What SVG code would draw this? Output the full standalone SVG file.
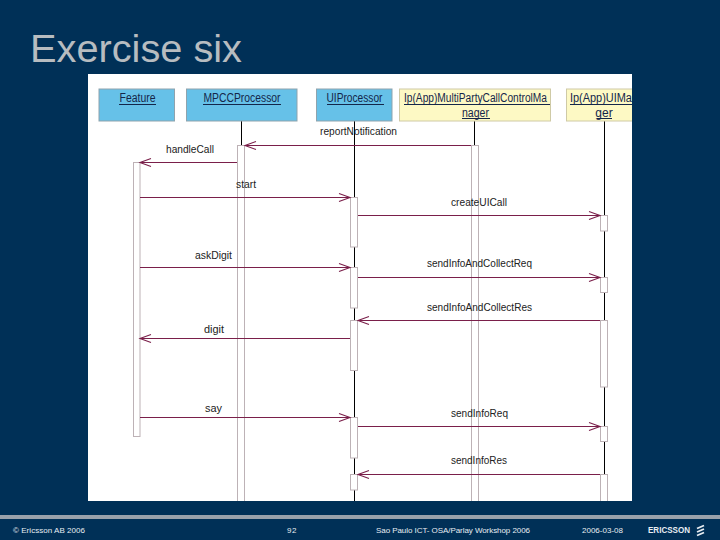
<svg xmlns="http://www.w3.org/2000/svg" width="720" height="540" viewBox="0 0 720 540">
<style>
text{font-family:"Liberation Sans",Arial,sans-serif}
.blue{fill:#66c1e8;stroke:#8fa3ad;stroke-width:1}
.yel{fill:#fdf9c4;stroke:#cfcaa6;stroke-width:1}
.name{font-size:12px;fill:#14264a;text-anchor:middle}
.ul{stroke:#14264a;stroke-width:1}
.life{stroke:#000;stroke-width:1;fill:none}
.act{fill:#fff;stroke:#bdb2b6;stroke-width:1}
.msg{stroke:#7a1f4a;stroke-width:1;fill:none}
.lbl{font-size:11.5px;fill:#222}
.foot{font-size:8px;fill:#e8edf2}
</style>
<defs>
<marker id="arr" markerUnits="userSpaceOnUse" markerWidth="14" markerHeight="12" refX="12" refY="6" orient="auto">
<path d="M1 2 L12 6 L1 10" fill="none" stroke="#7a1f4a" stroke-width="1.100"/>
</marker>
<clipPath id="panel"><rect x="88" y="74" width="544" height="427"/></clipPath>
</defs>
<rect width="720" height="540" fill="#003057"/>
<text x="30" y="62" font-size="38" fill="#b7bcc0" textLength="212" lengthAdjust="spacingAndGlyphs">Exercise six</text>
<rect x="88" y="74" width="544" height="427" fill="#fff"/>
<rect x="0" y="515" width="720" height="4" fill="#98a1ab"/>
<g clip-path="url(#panel)">
<g id="lifelines">
<line class="life" x1="241.500" y1="121" x2="241.500" y2="501"/>
<line class="life" x1="354.500" y1="121" x2="354.500" y2="501"/>
<line class="life" x1="474.500" y1="121" x2="474.500" y2="501"/>
<line class="life" x1="604.500" y1="121" x2="604.500" y2="501"/>
</g>
<g id="activations">
<rect class="act" x="133.500" y="162.500" width="6.500" height="274"/>
<rect class="act" x="237.500" y="145.500" width="7" height="360"/>
<rect class="act" x="471.500" y="145.500" width="7" height="360"/>
<rect class="act" x="350.500" y="197.500" width="7" height="49.500"/>
<rect class="act" x="350.500" y="267.500" width="7" height="40.500"/>
<rect class="act" x="350.500" y="320.500" width="7" height="50"/>
<rect class="act" x="350.500" y="417.500" width="7" height="40.500"/>
<rect class="act" x="350.500" y="474.500" width="7" height="15.500"/>
<rect class="act" x="600.500" y="215.500" width="7" height="15.500"/>
<rect class="act" x="600.500" y="277.500" width="7" height="15"/>
<rect class="act" x="600.500" y="320.500" width="7" height="66.500"/>
<rect class="act" x="600.500" y="426.500" width="7" height="15"/>
<rect class="act" x="600.500" y="474.500" width="7" height="35"/>
</g>
<g id="feature">
<rect class="blue" x="99" y="89" width="75.500" height="32"/>
<text class="name" x="137.500" y="102" textLength="36" lengthAdjust="spacingAndGlyphs">Feature</text>
<line class="ul" x1="119" y1="104.500" x2="156" y2="104.500"/>
</g>
<g id="mpccprocessor">
<rect class="blue" x="186.500" y="89" width="110.500" height="32"/>
<text class="name" x="242" y="102" textLength="77" lengthAdjust="spacingAndGlyphs">MPCCProcessor</text>
<line class="ul" x1="203" y1="104.500" x2="281" y2="104.500"/>
</g>
<g id="uiprocessor">
<rect class="blue" x="316.500" y="89" width="75.500" height="32"/>
<text class="name" x="354.500" y="102" textLength="56" lengthAdjust="spacingAndGlyphs">UIProcessor</text>
<line class="ul" x1="327" y1="104.500" x2="384" y2="104.500"/>
</g>
<g id="multiparty">
<rect class="yel" x="399.500" y="89" width="151" height="32"/>
<text class="name" x="475.500" y="102" textLength="143" lengthAdjust="spacingAndGlyphs">Ip(App)MultiPartyCallControlMa</text>
<line class="ul" x1="404" y1="104.500" x2="550" y2="104.500"/>
<text class="name" x="475.500" y="117" textLength="27" lengthAdjust="spacingAndGlyphs">nager</text>
<line class="ul" x1="462" y1="118.500" x2="490" y2="118.500"/>
</g>
<g id="uimanager">
<rect class="yel" x="566.500" y="89" width="76" height="32"/>
<text class="name" x="570" y="102" style="text-anchor:start" textLength="68" lengthAdjust="spacingAndGlyphs">Ip(App)UIMan</text>
<line class="ul" x1="570" y1="104.500" x2="640" y2="104.500"/>
<text class="name" x="604" y="117">ger</text>
<line class="ul" x1="597" y1="118.500" x2="612" y2="118.500"/>
</g>
<g id="connectors">
<line class="msg" x1="471" y1="145.500" x2="245" y2="145.500" marker-end="url(#arr)"/>
<line class="msg" x1="237" y1="162.500" x2="140" y2="162.500" marker-end="url(#arr)"/>
<line class="msg" x1="140" y1="197.500" x2="350" y2="197.500" marker-end="url(#arr)"/>
<line class="msg" x1="358" y1="215.500" x2="600" y2="215.500" marker-end="url(#arr)"/>
<line class="msg" x1="140" y1="267.500" x2="350" y2="267.500" marker-end="url(#arr)"/>
<line class="msg" x1="358" y1="277.500" x2="600" y2="277.500" marker-end="url(#arr)"/>
<line class="msg" x1="600" y1="320.500" x2="358" y2="320.500" marker-end="url(#arr)"/>
<line class="msg" x1="350" y1="338.500" x2="140" y2="338.500" marker-end="url(#arr)"/>
<line class="msg" x1="140" y1="417.500" x2="350" y2="417.500" marker-end="url(#arr)"/>
<line class="msg" x1="358" y1="426.500" x2="600" y2="426.500" marker-end="url(#arr)"/>
<line class="msg" x1="600" y1="474.500" x2="358" y2="474.500" marker-end="url(#arr)"/>
</g>
<g id="labels">
<text class="lbl" x="320" y="135" textLength="77" lengthAdjust="spacingAndGlyphs">reportNotification</text>
<text class="lbl" x="166" y="153" textLength="48" lengthAdjust="spacingAndGlyphs">handleCall</text>
<text class="lbl" x="236" y="188" textLength="20" lengthAdjust="spacingAndGlyphs">start</text>
<text class="lbl" x="451" y="206" textLength="56" lengthAdjust="spacingAndGlyphs">createUICall</text>
<text class="lbl" x="195" y="259" textLength="37" lengthAdjust="spacingAndGlyphs">askDigit</text>
<text class="lbl" x="427" y="267" textLength="105" lengthAdjust="spacingAndGlyphs">sendInfoAndCollectReq</text>
<text class="lbl" x="427" y="311" textLength="105" lengthAdjust="spacingAndGlyphs">sendInfoAndCollectRes</text>
<text class="lbl" x="204" y="333" textLength="20" lengthAdjust="spacingAndGlyphs">digit</text>
<text class="lbl" x="205" y="412" textLength="17" lengthAdjust="spacingAndGlyphs">say</text>
<text class="lbl" x="451" y="417" textLength="57" lengthAdjust="spacingAndGlyphs">sendInfoReq</text>
<text class="lbl" x="451" y="464" textLength="56" lengthAdjust="spacingAndGlyphs">sendInfoRes</text>
</g>
</g>
<g id="footer">
<text class="foot" x="13" y="533" textLength="72" lengthAdjust="spacing">© Ericsson AB 2006</text>
<text class="foot" x="287" y="533" textLength="9.500" lengthAdjust="spacing">92</text>
<text class="foot" x="376" y="533" textLength="154" lengthAdjust="spacing">Sao Paulo ICT- OSA/Parlay Workshop 2006</text>
<text class="foot" x="582" y="533" textLength="41" lengthAdjust="spacing">2006-03-08</text>
<text x="648" y="533" font-size="8.500" font-weight="bold" fill="#e8edf2" textLength="42" lengthAdjust="spacingAndGlyphs">ERICSSON</text>
<g fill="none" stroke="#e8edf2" stroke-width="1.800">
<path d="M697 528.500 L704 525.500"/>
<path d="M697 532 L704 529"/>
<path d="M697 535.500 L704 532.500"/>
</g>
</g>
</svg>
